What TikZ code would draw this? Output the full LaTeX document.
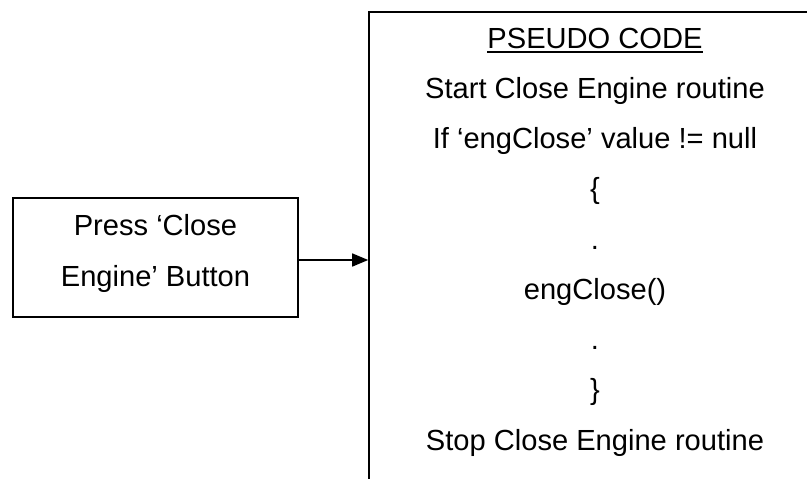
\documentclass[tikz,border=0pt]{standalone}
\usepackage{fontspec}
\setmainfont{Liberation Sans}
\usetikzlibrary{arrows.meta}
\begin{document}
\begin{tikzpicture}[x=1pt,y=-1pt,
  txt/.style={font=\fontsize{29.1}{51}\selectfont, inner sep=0pt, anchor=base},
  frame/.style={draw=black, line width=1.6pt}]
\useasboundingbox (0,0) rectangle (807,479);
\clip (0,0) rectangle (807,479);
\node[frame, minimum width=285pt, minimum height=119pt] (btn) at (155.5,257.5) {};
\node[txt] (p1) at (155.5,235) {Press ‘Close};
\node[txt] (p2) at (155.5,286) {Engine’ Button};
\node[frame, minimum width=452pt, minimum height=500pt, anchor=north] (code) at (595,11) {};
\node[txt] (l0) at (595,48) {PSEUDO CODE};
\node[txt] (l1) at (595,98.25) {Start Close Engine routine};
\node[txt] (l2) at (595,148.5) {If ‘engClose’ value != null};
\node[txt] (l3) at (595,198.75) {\{};
\node[txt] (l4) at (595,249) {.};
\node[txt] (l5) at (595,299.25) {engClose()};
\node[txt] (l6) at (595,349.5) {.};
\node[txt] (l7) at (595,399.75) {\}};
\node[txt] (l8) at (595,450) {Stop Close Engine routine};
\draw[line width=1.8pt] ([yshift=-4pt]l0.base west) -- ([yshift=-4pt]l0.base east);
\draw[line width=1.6pt, -{Triangle[length=16pt,width=13pt]}]
  ([yshift=-2.5pt]btn.east) -- ([yshift=-2.5pt]btn.east -| code.west);
\end{tikzpicture}
\end{document}
